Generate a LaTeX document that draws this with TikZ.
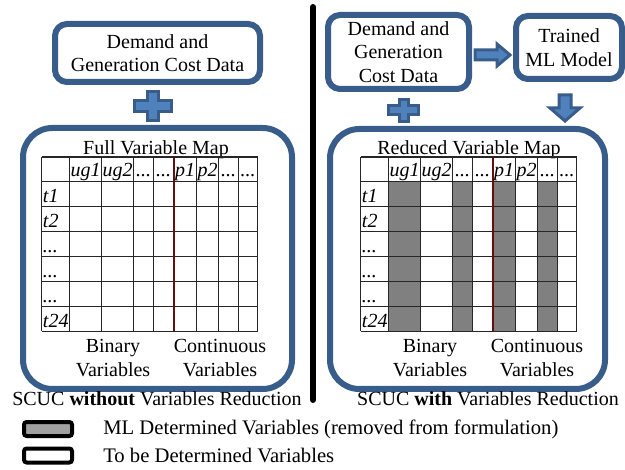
\documentclass[tikz,border=0pt]{standalone}
\usepackage{fontspec}
\setmainfont{Liberation Serif}
\usepackage{xcolor}
\usetikzlibrary{positioning}

\definecolor{boxblue}{RGB}{56,93,138}
\definecolor{fillblue}{RGB}{79,129,189}
\definecolor{mapgray}{RGB}{128,128,128}
\definecolor{mapred}{RGB}{105,12,12}
\definecolor{keygray}{RGB}{160,160,160}

\newcommand{\mapdots}{...}

% plus sign: centre, half width, half height, half arm
\newcommand{\plusmark}[4]{%
  \draw[blockshape, shift={#1}] (-#4,-#3) -- (#4,-#3) -- (#4,-#4) -- (#2,-#4)
    -- (#2,#4) -- (#4,#4) -- (#4,#3) -- (-#4,#3) -- (-#4,#4) -- (-#2,#4)
    -- (-#2,-#4) -- (-#4,-#4) -- cycle;}

% variable map: left edge, name
\newcommand{\varmap}[2]{%
  \foreach \c in {0,28,60,92,112,155,177,197,216}
    \draw[mapline] (#1+\c,157) -- (#1+\c,331.5);
  \foreach \r in {157,181.5,206.5,231.5,256.5,281.5,306.5,331.5}
    \draw[mapline] (#1,\r) -- (#1+216,\r);
  \draw[mapdivider] (#1+132,157) -- (#1+132,331.5);
  \foreach \t/\c [count=\i] in {ug1/44,ug2/76,\mapdots/102,\mapdots/122,p1/143.5,p2/166,\mapdots/187,\mapdots/206.5}
    \node[maplabel, anchor=base] (#2-h\i) at (#1+\c,177) {\t};
  \foreach \t/\r [count=\i] in {t1/202.5,t2/227.5,\mapdots/252.5,\mapdots/277.5,\mapdots/302.5,t24/327.5}
    \node[maplabel, anchor=base west] (#2-t\i) at (#1+1,\r) {\t};
}

\begin{document}
\begin{tikzpicture}[x=0.75pt,y=-0.75pt,
    font=\fontsize{15}{17.5}\selectfont,
    databox/.style={draw=boxblue, line width=4.5pt, rounded corners=9pt, align=center, inner sep=0pt},
    mapbox/.style={draw=boxblue, line width=4.5pt, rounded corners=22pt, inner sep=0pt},
    blockshape/.style={draw=boxblue, fill=fillblue, line width=2.25pt, line join=miter},
    mapline/.style={draw=black!85, line width=0.9pt},
    mapdivider/.style={draw=mapred, line width=1.8pt},
    maplabel/.style={inner sep=0pt, font=\fontsize{15}{17.5}\selectfont\itshape},
    keybox/.style={draw=black, line width=3pt, rounded corners=2pt, inner sep=0pt,
      minimum width=36pt, minimum height=10.5pt},
    keytext/.style={anchor=west, inner sep=0pt, font=\fontsize{15.5}{18}\selectfont}]
    \useasboundingbox (0,0) rectangle (625,470);

    % Without reduction
    \node[databox, minimum width=153.75pt, minimum height=43.5pt] (data) at (157.5,53)
      {Demand and\\Generation Cost Data};
    \plusmark{(153,106)}{18.5}{14.5}{5.5}
    \node[mapbox, minimum width=201.75pt, minimum height=195.75pt] (fullbox) at (157.5,258.5) {};
    \node[anchor=base, inner sep=0pt] (fulltitle) at (156,155) {Full Variable Map};
    \varmap{41.7}{full}
    \node[align=center] (fullbin) at (113,358) {Binary\\Variables};
    \node[align=center] (fullcon) at (220,358) {Continuous\\Variables};
    \node[anchor=base, inner sep=0pt] (fullname) at (157,406) {SCUC \textbf{without} Variables Reduction};

    % Separator
    \draw[line width=4.5pt, line cap=round] (313,7) -- (313,400);

    % With reduction
    \node[databox, minimum width=105.75pt, minimum height=55.5pt] (data2) at (398.5,52)
      {Demand and\\Generation\\Cost Data};
    \node[databox, minimum width=79.5pt, minimum height=47.25pt] (model) at (569,47.5)
      {Trained\\ML Model};
    \draw[blockshape] (475,50) -- (497,50) -- (497,44) -- (510,55) -- (497,66) -- (497,60) -- (475,60) -- cycle;
    \draw[blockshape] (559,95) -- (571,95) -- (571,108) -- (580,108) -- (565,121) -- (550,108) -- (559,108) -- cycle;
    \plusmark{(403.5,110.5)}{15}{11}{4.5}
    \node[mapbox, minimum width=206.25pt, minimum height=195pt] (redbox) at (467.5,259) {};
    \node[anchor=base, inner sep=0pt] (redtitle) at (469,155) {Reduced Variable Map};
    \foreach \a/\b in {28/60,92/112,132/155,177/197}
      \fill[mapgray] (360.7+\a,181.5) rectangle (360.7+\b,331.5);
    \varmap{360.7}{red}
    \node[align=center] (redbin) at (430,358) {Binary\\Variables};
    \node[align=center] (redcon) at (537,358) {Continuous\\Variables};
    \node[anchor=base, inner sep=0pt] (redname) at (488,406) {SCUC \textbf{with} Variables Reduction};

    % Legend
    \node[keybox, fill=keygray] (keyml) at (48,429) {};
    \node[keytext] (keymltext) at (103,429) {ML Determined Variables (removed from formulation)};
    \node[keybox, fill=white] (keytbd) at (48,455.5) {};
    \node[keytext] (keytbdtext) at (103,455.5) {To be Determined Variables};
\end{tikzpicture}
\end{document}
